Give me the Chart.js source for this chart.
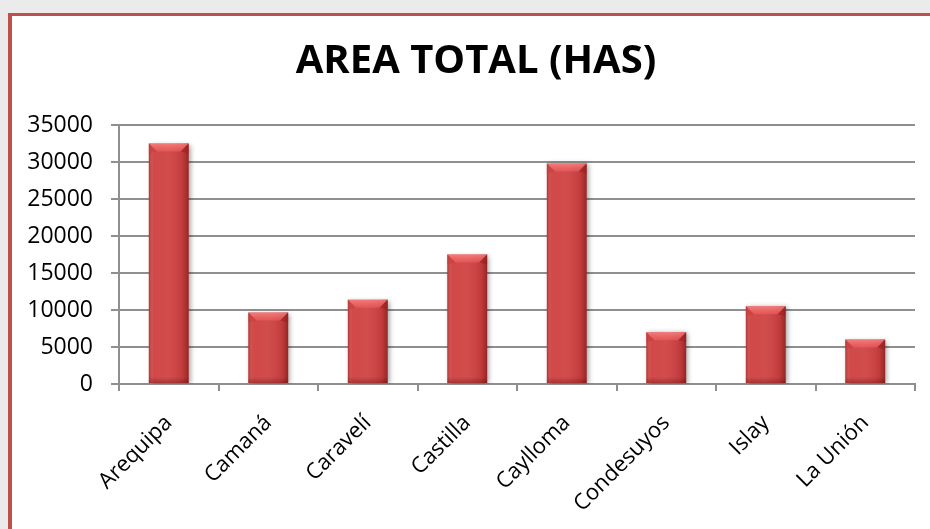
<!DOCTYPE html>
<html>
<head>
<meta charset="utf-8">
<script src="https://cdn.jsdelivr.net/npm/chart.js@4.4.1/dist/chart.umd.min.js"></script>
<style>
  html, body { margin: 0; padding: 0; width: 930px; height: 529px; overflow: hidden; background: #ebebeb; }
  #frame {
    position: absolute; left: 8px; top: 13px; width: 940px; height: 540px;
    background: #ffffff;
    border-left: 4px solid #c0504d; border-top: 3px solid #c0504d;
  }
  #wrap { position: absolute; left: 0; top: 0; width: 930px; height: 529px; }
</style>
</head>
<body>
<div id="frame"></div>
<div id="wrap"><canvas id="c" width="930" height="529"></canvas></div>
<script>
// Provincias de Arequipa y su área total en hectáreas
const chartTitle = 'AREA TOTAL (HAS)';
const provincias = ['Arequipa', 'Camaná', 'Caravelí', 'Castilla', 'Caylloma', 'Condesuyos', 'Islay', 'La Unión'];
const areaTotal = [32500, 9650, 11400, 17500, 29800, 7000, 10500, 6000];
const yMin = 0;
const yMax = 35000;
const yStep = 5000;

const GRID = '#8f8f8f';

// Centre the title over the framed panel rather than the whole canvas
const titleSpan = {
  id: 'titleSpan',
  afterLayout(chart) {
    if (chart.titleBlock) {
      chart.titleBlock.left = 37;
      chart.titleBlock.right = 915;
    }
  }
};

// Shadow under the bars plus a bevelled, shaded face on top of each one
const bevelBars = {
  id: 'bevelBars',
  beforeDatasetsDraw(chart) {
    const ctx = chart.ctx;
    ctx.save();
    ctx.shadowColor = 'rgba(0,0,0,0.38)';
    ctx.shadowBlur = 5;
    ctx.shadowOffsetX = 2;
    ctx.shadowOffsetY = 1;
  },
  afterDatasetsDraw(chart) {
    const ctx = chart.ctx;
    ctx.restore();
    const meta = chart.getDatasetMeta(0);
    meta.data.forEach(bar => {
      const { x, y, width, base } = bar.getProps(['x', 'y', 'width', 'base'], true);
      const l = x - width / 2, r = x + width / 2;
      const h = base - y;
      ctx.save();
      // horizontal shading across the face
      const g = ctx.createLinearGradient(l, 0, r, 0);
      g.addColorStop(0, 'rgba(120,20,20,0.35)');
      g.addColorStop(0.12, 'rgba(255,255,255,0.04)');
      g.addColorStop(0.45, 'rgba(255,255,255,0.06)');
      g.addColorStop(0.85, 'rgba(90,10,10,0.12)');
      g.addColorStop(1, 'rgba(80,5,5,0.45)');
      ctx.fillStyle = g;
      ctx.fillRect(l, y, width, h);
      // top bevel
      const b = Math.min(8, h / 2);
      ctx.beginPath();
      ctx.moveTo(l, y);
      ctx.lineTo(r, y);
      ctx.lineTo(r - b, y + b);
      ctx.lineTo(l + b, y + b);
      ctx.closePath();
      const tg = ctx.createLinearGradient(0, y, 0, y + b);
      tg.addColorStop(0, 'rgba(255,140,140,0.75)');
      tg.addColorStop(1, 'rgba(240,95,95,0.55)');
      ctx.fillStyle = tg;
      ctx.fill();
      // side facets of the bevel
      ctx.beginPath();
      ctx.moveTo(l, y); ctx.lineTo(l + b, y + b); ctx.lineTo(l, y + b + 2); ctx.closePath();
      ctx.fillStyle = 'rgba(200,60,60,0.5)';
      ctx.fill();
      ctx.beginPath();
      ctx.moveTo(r, y); ctx.lineTo(r - b, y + b); ctx.lineTo(r, y + b + 2); ctx.closePath();
      ctx.fillStyle = 'rgba(150,30,30,0.5)';
      ctx.fill();
      // bottom darkening
      const bg = ctx.createLinearGradient(0, base - 6, 0, base);
      bg.addColorStop(0, 'rgba(90,10,10,0)');
      bg.addColorStop(1, 'rgba(90,10,10,0.35)');
      ctx.fillStyle = bg;
      ctx.fillRect(l, base - 6, width, 6);
      ctx.restore();
    });
  }
};

new Chart(document.getElementById('c'), {
  type: 'bar',
  data: {
    labels: provincias,
    datasets: [{
      data: areaTotal,
      backgroundColor: '#cf4141',
      borderWidth: 0,
      barPercentage: 0.4,
      categoryPercentage: 1.0
    }]
  },
  plugins: [titleSpan, bevelBars],
  options: {
    responsive: false,
    animation: false,
    devicePixelRatio: 1,
    layout: { padding: { left: 0, right: 15, top: 13, bottom: 0 } },
    plugins: {
      legend: { display: false },
      tooltip: { enabled: false },
      title: {
        display: true,
        text: chartTitle,
        color: '#000000',
        font: { family: 'Open Sans', size: 40, weight: 'bold', lineHeight: 1.2 },
        padding: { top: 25, bottom: 39 }
      }
    },
    scales: {
      x: {
        offset: true,
        grid: {
          offset: true,
          drawOnChartArea: false,
          drawTicks: true,
          tickLength: 7,
          color: GRID,
          lineWidth: 2
        },
        border: { display: true, color: GRID, width: 2 },
        ticks: {
          color: '#000000',
          font: { family: 'Open Sans', size: 22 },
          minRotation: 45,
          maxRotation: 45,
          padding: 19
        },
        afterFit(scale) { scale.height = 145; }
      },
      y: {
        min: yMin,
        max: yMax,
        grid: {
          color: GRID,
          lineWidth: 2,
          drawTicks: true,
          tickLength: 8
        },
        border: { display: true, color: GRID, width: 2 },
        ticks: {
          stepSize: yStep,
          color: '#000000',
          font: { family: 'Open Sans', size: 23 },
          padding: 18,
          callback: v => String(v)
        },
        afterFit(scale) { scale.width = 119; }
      }
    }
  }
});
</script>
</body>
</html>
